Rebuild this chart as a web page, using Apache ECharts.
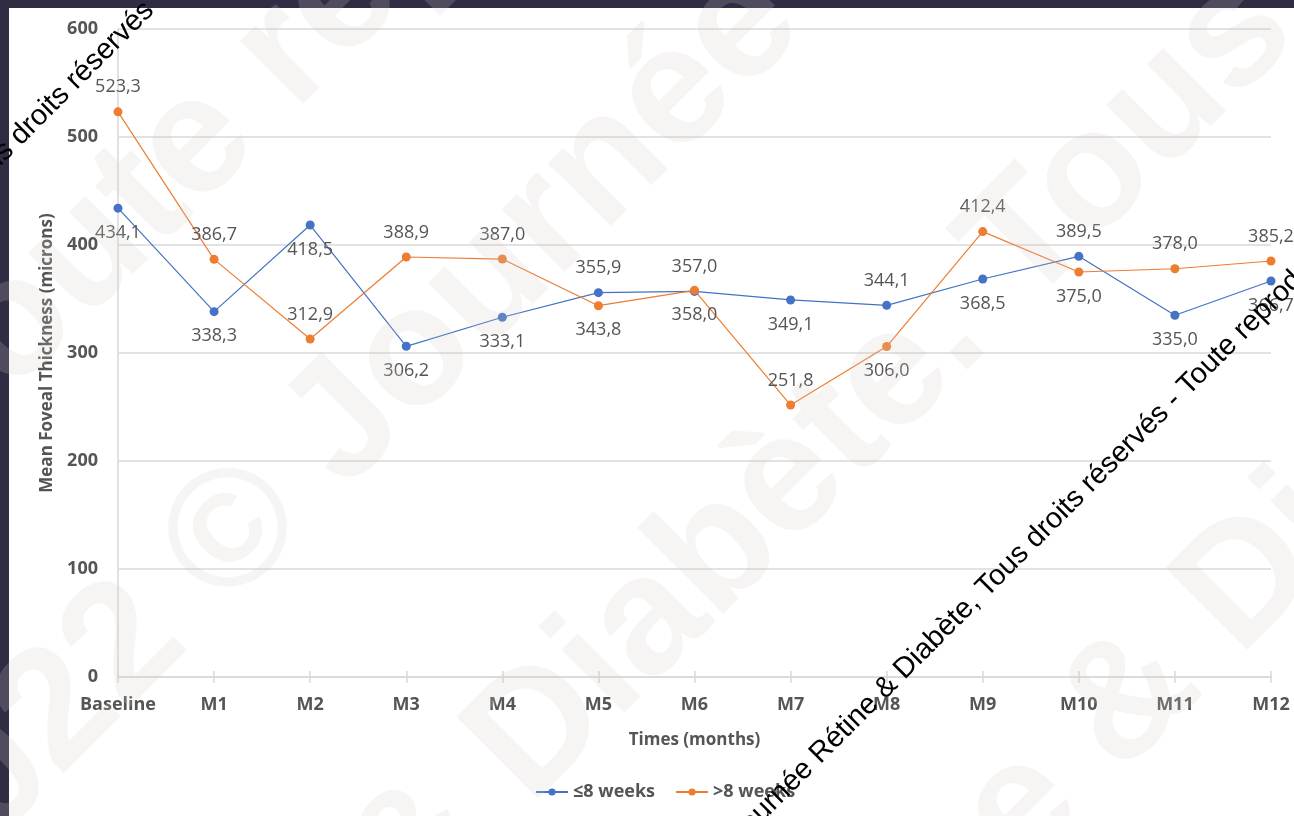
<!DOCTYPE html>
<html>
<head>
<meta charset="utf-8">
<script src="https://cdn.jsdelivr.net/npm/echarts@6/dist/echarts.min.js"></script>
<style>
  html, body { margin: 0; padding: 0; background: #ffffff; }
  #chart { width: 1294px; height: 816px; }
</style>
</head>
<body>
<div id="chart"></div>
<script>
// Time points of the follow-up
const categories = ['Baseline', 'M1', 'M2', 'M3', 'M4', 'M5', 'M6', 'M7', 'M8', 'M9', 'M10', 'M11', 'M12'];

// Mean foveal thickness (microns) per group
const shortDelay = [434.1, 338.3, 418.5, 306.2, 333.1, 355.9, 357.0, 349.1, 344.1, 368.5, 389.5, 335.0, 366.7];
const longDelay  = [523.3, 386.7, 312.9, 388.9, 387.0, 343.8, 358.0, 251.8, 306.0, 412.4, 375.0, 378.0, 385.2];

// Where each value label sits relative to its point
const shortDelayLabelPos = ['bottom', 'bottom', 'bottom', 'bottom', 'bottom', 'top', 'top', 'bottom', 'top', 'bottom', 'top', 'bottom', 'bottom'];
const longDelayLabelPos  = ['top', 'top', 'top', 'top', 'top', 'bottom', 'bottom', 'top', 'bottom', 'top', 'bottom', 'top', 'top'];

// Value axis ticks
const yMin = 0, yMax = 600, yStep = 100;

const seriesNames = ['\u22648 weeks', '>8 weeks'];
const seriesColors = ['#4472C4', '#ED7D31'];

const FONT = "'Open Sans', 'Noto Sans', sans-serif";
const LABEL_GREY = '#555555';
const GRID_GREY = '#d9d9d9';

const fmt = v => v.toFixed(1).replace('.', ',');

function withLabels(values, positions) {
  return values.map((v, i) => ({
    value: v,
    label: { position: positions[i] }
  }));
}

function lineSeries(name, color, values, positions) {
  return {
    name: name,
    type: 'line',
    xAxisIndex: 0,
    data: withLabels(values, positions),
    symbol: 'circle',
    symbolSize: 9,
    itemStyle: { color: color },
    lineStyle: { color: color, width: 1.2 },
    label: {
      show: true,
      distance: 11,
      color: LABEL_GREY,
      fontFamily: FONT,
      fontSize: 18,
      formatter: p => fmt(p.value)
    },
    emphasis: { disabled: true },
    animation: false
  };
}

// Diagonal overlay texts
const faintWatermarks = [
  { text: 'Toute reproduction interdite', x: -26, y: 486 },
  { text: '2022 \u00a9 Journ\u00e9e R\u00e9tine', x: -46, y: 936 },
  { text: '& Diab\u00e8te. Tous droits r\u00e9serv\u00e9s', x: 438, y: 952 },
  { text: 'R\u00e9tine & Diab\u00e8te. Tous', x: 751, y: 1199 }
];
const notices = [
  { text: 'Journ\u00e9e R\u00e9tine & Diab\u00e8te, Tous droits r\u00e9serv\u00e9s - Toute reproduction interdite', x: 745, y: 849 },
  { text: 'Journ\u00e9e R\u00e9tine & Diab\u00e8te, Tous droits r\u00e9serv\u00e9s - Toute reproduction interdite', x: -270, y: 446 }
];

const graphics = [
  { type: 'rect', z: 0, silent: true, shape: { x: 0, y: 0, width: 1294, height: 8 }, style: { fill: '#2f2c43' } },
  { type: 'rect', z: 0, silent: true, shape: { x: 0, y: 0, width: 9, height: 816 }, style: { fill: '#2f2c43' } }
];
faintWatermarks.forEach(w => graphics.push({
  type: 'text', z: 50, silent: true,
  x: w.x, y: w.y, rotation: Math.PI / 4,
  style: {
    text: w.text, fill: 'rgba(215,200,200,0.2)',
    font: "bold 168px 'Liberation Sans', Arial, sans-serif",
    verticalAlign: 'bottom', align: 'left'
  }
}));
notices.forEach(n => graphics.push({
  type: 'text', z: 60, silent: true,
  x: n.x, y: n.y, rotation: Math.PI / 4,
  style: {
    text: n.text, fill: '#000000',
    font: "29px 'Liberation Sans', Arial, sans-serif",
    verticalAlign: 'bottom', align: 'left'
  }
}));

const chart = echarts.init(document.getElementById('chart'), null, { renderer: 'canvas' });

chart.setOption({
  backgroundColor: '#ffffff',
  animation: false,
  textStyle: { fontFamily: FONT },
  grid: { left: 118, right: 23, top: 29, bottom: 139, containLabel: false },
  legend: {
    data: seriesNames,
    left: 530,
    top: 778,
    itemWidth: 32,
    itemHeight: 9,
    itemGap: 20,
    textStyle: { color: LABEL_GREY, fontFamily: FONT, fontSize: 18, fontWeight: 'bold' }
  },
  xAxis: [
    {
      type: 'category',
      data: categories,
      boundaryGap: false,
      name: 'Times (months)',
      nameLocation: 'middle',
      nameGap: 55,
      nameTextStyle: { color: LABEL_GREY, fontFamily: FONT, fontSize: 17, fontWeight: 'bold' },
      axisLine: { lineStyle: { color: GRID_GREY, width: 1.5 } },
      axisTick: { show: true, interval: 0, length: 6, lineStyle: { color: GRID_GREY, width: 1.5 } },
      axisLabel: { interval: 0, color: LABEL_GREY, fontFamily: FONT, fontSize: 18, fontWeight: 'bold', margin: 19 },
      splitLine: { show: false }
    },
    {
      // inward half of the crossing tick marks
      type: 'category',
      data: categories,
      boundaryGap: false,
      position: 'bottom',
      axisLine: { show: false },
      axisTick: { show: true, interval: 0, inside: true, length: 6, lineStyle: { color: GRID_GREY, width: 1.5 } },
      axisLabel: { show: false },
      splitLine: { show: false }
    }
  ],
  yAxis: {
    type: 'value',
    min: yMin,
    max: yMax,
    interval: yStep,
    name: 'Mean Foveal Thickness (microns)',
    nameLocation: 'middle',
    nameGap: 62,
    nameTextStyle: { color: LABEL_GREY, fontFamily: FONT, fontSize: 17, fontWeight: 'bold' },
    axisLine: { show: true, lineStyle: { color: GRID_GREY, width: 1.5 } },
    axisTick: { show: false },
    axisLabel: { color: LABEL_GREY, fontFamily: FONT, fontSize: 18, fontWeight: 'bold', margin: 20 },
    splitLine: { lineStyle: { color: GRID_GREY, width: 1.5 } }
  },
  series: [
    lineSeries(seriesNames[0], seriesColors[0], shortDelay, shortDelayLabelPos),
    lineSeries(seriesNames[1], seriesColors[1], longDelay, longDelayLabelPos)
  ],
  graphic: { elements: graphics }
});
</script>
</body>
</html>
